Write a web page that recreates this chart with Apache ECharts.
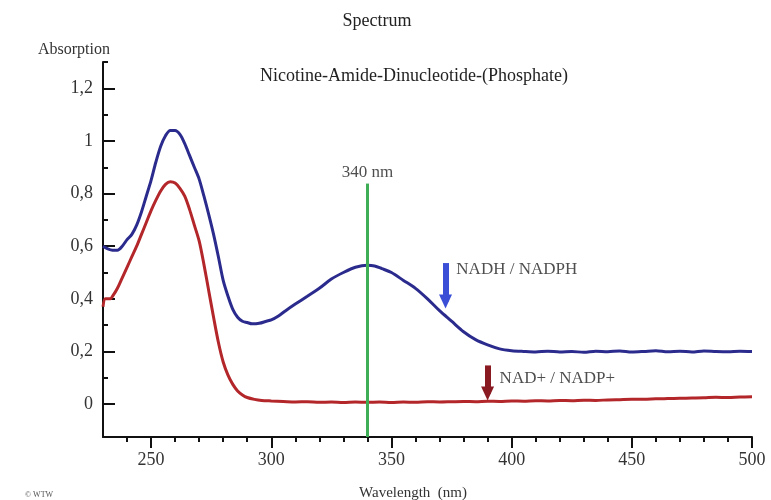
<!DOCTYPE html>
<html>
<head>
<meta charset="utf-8">
<script src="https://cdn.jsdelivr.net/npm/echarts@6/dist/echarts.min.js"></script>
<style>html,body{margin:0;padding:0;background:#fff}#c{width:771px;height:500px}</style>
</head>
<body>
<div id="c"></div>
<script>
// ---- data ----
var nadhNm  = [230,232,234,236,238,240,242,244,246,248,250,252,254,256,258,260,262,264,266,268,270,272,274,276,278,280,282,284,286,288,290,292,295,298,300,303,306,310,315,320,325,330,335,340,343,346,350,355,360,365,370,375,380,385,390,395,400,405,410,415,420,425,430,435,440,445,450,455,460,465,470,475,480,485,490,495,500];
var nadhAbs = [0.60,0.59,0.585,0.585,0.60,0.625,0.645,0.68,0.73,0.79,0.85,0.92,0.98,1.02,1.04,1.04,1.025,0.99,0.945,0.90,0.855,0.79,0.72,0.645,0.56,0.47,0.41,0.36,0.33,0.315,0.31,0.305,0.307,0.315,0.32,0.335,0.355,0.38,0.41,0.44,0.475,0.50,0.52,0.528,0.525,0.515,0.50,0.47,0.44,0.40,0.355,0.315,0.275,0.245,0.225,0.21,0.203,0.2,0.198,0.201,0.198,0.2,0.197,0.201,0.199,0.202,0.198,0.2,0.203,0.199,0.201,0.198,0.202,0.2,0.199,0.201,0.2];
var nadNm  = [230,231,233,234,236,238,240,242,244,246,248,250,252,254,256,258,260,262,264,266,268,270,272,274,276,278,280,282,284,286,288,290,293,296,300,305,310,315,320,325,330,335,340,345,350,355,360,365,370,375,380,385,390,395,400,405,410,415,420,425,430,435,440,445,450,455,460,465,470,475,480,485,490,495,500];
var nadAbs = [0.37,0.40,0.40,0.41,0.44,0.48,0.52,0.56,0.60,0.645,0.69,0.735,0.775,0.81,0.835,0.845,0.84,0.82,0.79,0.74,0.68,0.62,0.53,0.43,0.33,0.235,0.16,0.11,0.075,0.05,0.035,0.025,0.018,0.014,0.012,0.01,0.008,0.009,0.007,0.008,0.006,0.008,0.007,0.008,0.006,0.008,0.007,0.009,0.008,0.009,0.01,0.009,0.011,0.01,0.012,0.011,0.013,0.012,0.014,0.013,0.015,0.014,0.016,0.017,0.018,0.018,0.02,0.021,0.022,0.023,0.024,0.026,0.025,0.027,0.028];
var xMajorTicks = [250,300,350,400,450,500];
var xMinorTicks = [240,260,270,280,290,310,320,330,340,360,370,380,390,410,420,430,440,460,470,480,490];
var yMajorTicks = [0,0.2,0.4,0.6,0.8,1,1.2];
var yMinorTicks = [0.1,0.3,0.5,0.7,0.9,1.1,1.3];
var marker340 = {nm: 340, top: 0.838, label: '340 nm', labelY: 0.88};
var nadhArrow = {nm: 372.5, from: 0.536, to: 0.39, label: 'NADH / NADPH', labelNm: 377, labelY: 0.51};
var nadArrow  = {nm: 390, from: 0.147, to: 0.04, label: 'NAD+ / NADP+', labelNm: 395, labelY: 0.098};

var X_MIN = 230, X_MAX = 500, Y_MIN = -0.125, Y_MAX = 1.3;
var serif = '"Liberation Serif", "DejaVu Serif", serif';
function zip(a, b) { return a.map(function (v, i) { return [v, b[i]]; }); }
function fmtY(v) { return String(Math.round(v * 10) / 10).replace('.', ','); }

var chart = echarts.init(document.getElementById('c'), null, {renderer: 'canvas'});
chart.setOption({
  animation: false,
  backgroundColor: '#ffffff',
  title: [
    {text: 'Spectrum', left: 372, top: 7, textAlign: 'center', textStyle: {fontFamily: serif, fontSize: 18, fontWeight: 'normal', color: '#222'}},
    {text: 'Nicotine-Amide-Dinucleotide-(Phosphate)', left: 409, top: 62, textAlign: 'center', textStyle: {fontFamily: serif, fontSize: 18, fontWeight: 'normal', color: '#222'}},
    {text: 'Absorption', left: 33, top: 37, textStyle: {fontFamily: serif, fontSize: 16, fontWeight: 'normal', color: '#333'}},
    {text: 'Wavelength  (nm)', left: 408, top: 481, textAlign: 'center', textStyle: {fontFamily: serif, fontSize: 15, fontWeight: 'normal', color: '#333'}},
    {text: '\u00A9 WTW', left: 20, top: 486, textStyle: {fontFamily: serif, fontSize: 8, fontWeight: 'normal', color: '#555'}}
  ],
  grid: {left: 103, right: 19, top: 62, bottom: 63, containLabel: false},
  xAxis: [
    {type: 'value', min: X_MIN, max: X_MAX, position: 'bottom',
     axisLine: {show: true, onZero: false, lineStyle: {color: '#111', width: 2}},
     axisTick: {show: true, customValues: xMajorTicks, length: 11, inside: false, lineStyle: {color: '#111', width: 2}},
     axisLabel: {show: true, customValues: xMajorTicks, margin: 14, fontFamily: serif, fontSize: 18, color: '#333'},
     splitLine: {show: false}},
    {type: 'value', min: X_MIN, max: X_MAX, position: 'bottom',
     axisLine: {show: false, onZero: false},
     axisTick: {show: true, customValues: xMinorTicks, length: 5, inside: false, lineStyle: {color: '#111', width: 2}},
     axisLabel: {show: false}, splitLine: {show: false}}
  ],
  yAxis: [
    {type: 'value', min: Y_MIN, max: Y_MAX, position: 'left',
     axisLine: {show: true, onZero: false, lineStyle: {color: '#111', width: 2}},
     axisTick: {show: true, customValues: yMajorTicks, length: 12, inside: true, lineStyle: {color: '#111', width: 2}},
     axisLabel: {show: true, customValues: yMajorTicks, margin: 10, formatter: fmtY, fontFamily: serif, fontSize: 18, color: '#333'},
     splitLine: {show: false}},
    {type: 'value', min: Y_MIN, max: Y_MAX, position: 'left',
     axisLine: {show: false, onZero: false},
     axisTick: {show: true, customValues: yMinorTicks, length: 5, inside: true, lineStyle: {color: '#111', width: 2}},
     axisLabel: {show: false}, splitLine: {show: false}}
  ],
  series: [
    {name: 'NAD+ / NADP+', type: 'line', xAxisIndex: 0, yAxisIndex: 0, data: zip(nadNm, nadAbs),
     showSymbol: false, smooth: 0.3, lineStyle: {color: '#b3262a', width: 3}, z: 3},
    {name: 'NADH / NADPH', type: 'line', xAxisIndex: 0, yAxisIndex: 0, data: zip(nadhNm, nadhAbs),
     showSymbol: false, smooth: 0.3, lineStyle: {color: '#2b2b8e', width: 3}, z: 3,
     markLine: {
       silent: true, animation: false,
       data: [
         [{coord: [marker340.nm, marker340.top], symbol: 'none', lineStyle: {color: '#3dae55', width: 3, type: 'solid'}},
          {coord: [marker340.nm, Y_MIN], symbol: 'none'}],
         [{coord: [nadhArrow.nm, nadhArrow.from], symbol: 'none', lineStyle: {color: '#3a4fd6', width: 6, type: 'solid'}},
          {coord: [nadhArrow.nm, nadhArrow.to], symbol: 'triangle', symbolSize: [13, 14], symbolRotate: 180}],
         [{coord: [nadArrow.nm, nadArrow.from], symbol: 'none', lineStyle: {color: '#8a1a22', width: 6, type: 'solid'}},
          {coord: [nadArrow.nm, nadArrow.to], symbol: 'triangle', symbolSize: [13, 14], symbolRotate: 180}]
       ],
       label: {show: false}
     }},
    {name: 'labels', type: 'scatter', xAxisIndex: 0, yAxisIndex: 0, symbolSize: 0, z: 5,
     data: [
       {value: [marker340.nm, marker340.labelY], txt: marker340.label, label: {align: 'center', position: 'inside'}},
       {value: [nadhArrow.labelNm, nadhArrow.labelY], txt: nadhArrow.label, label: {align: 'left', position: 'inside'}},
       {value: [nadArrow.labelNm, nadArrow.labelY], txt: nadArrow.label, label: {align: 'left', position: 'inside'}}
     ],
     label: {show: true, formatter: function (p) { return p.data.txt; }, fontFamily: serif, fontSize: 17, color: '#222', verticalAlign: 'middle'}}
  ]
});
</script>
</body>
</html>
